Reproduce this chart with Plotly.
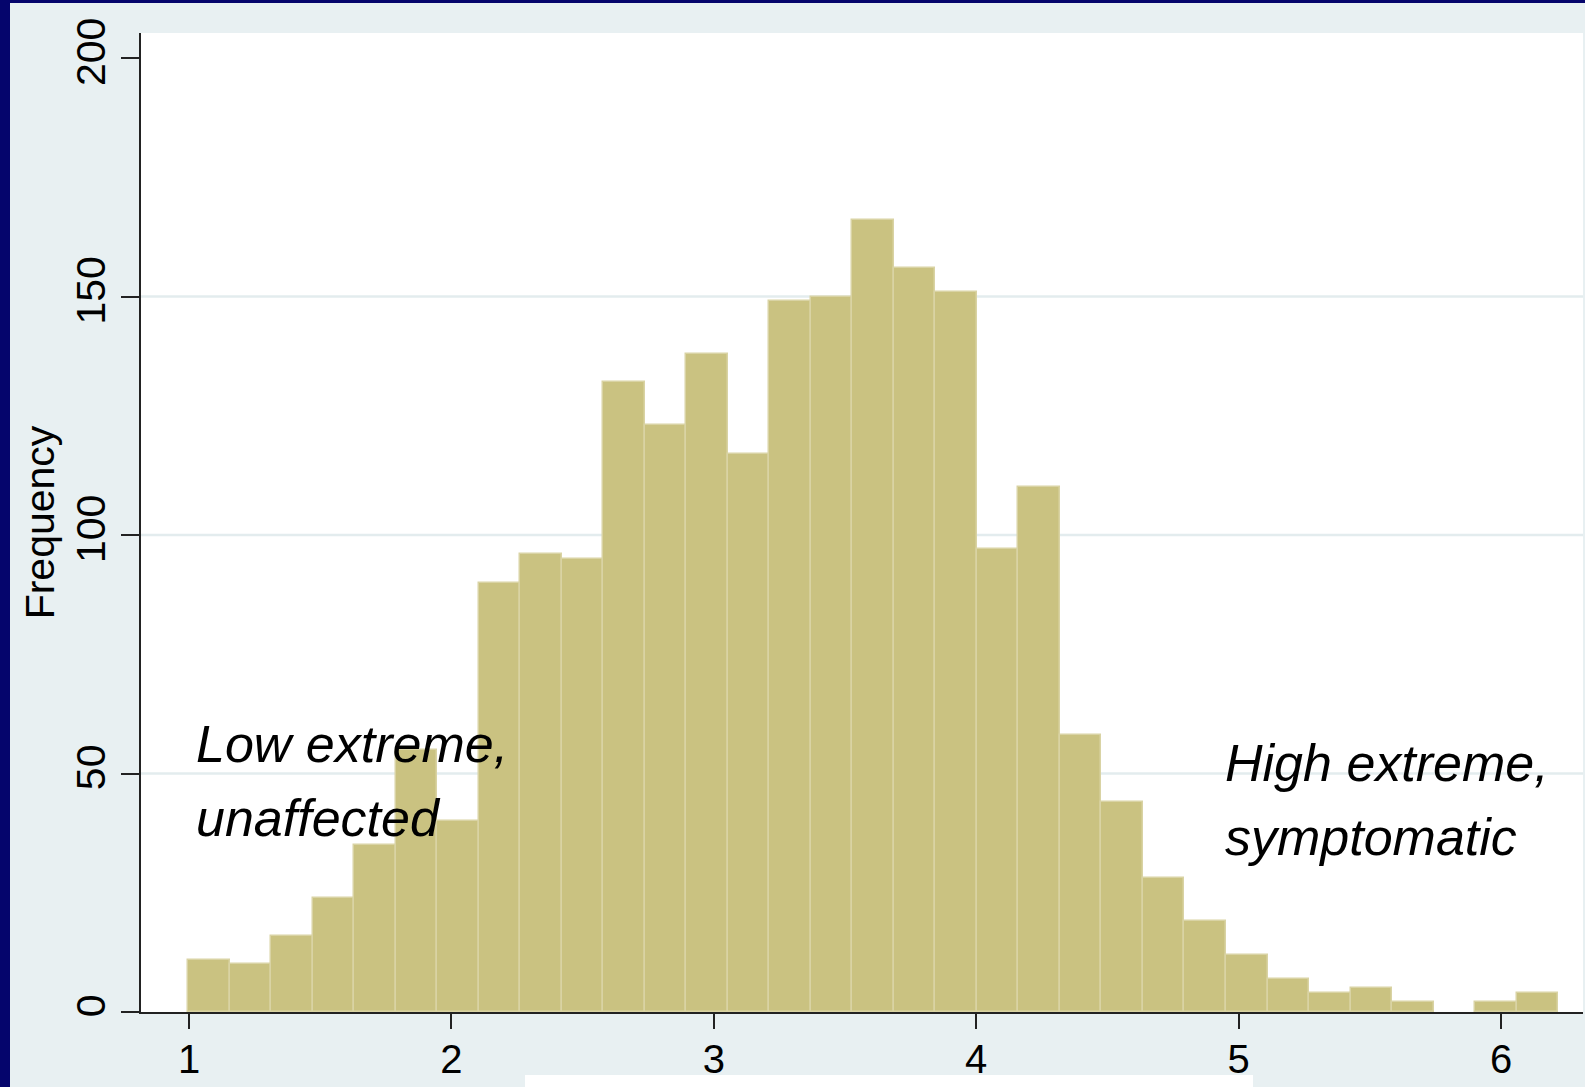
import numpy as np
import plotly.graph_objects as go

# ---- data ----
bin_start = 0.997
bin_width = 0.1582
counts = [11, 10, 16, 24, 35, 55, 40, 90, 96, 95, 132, 123, 138, 117, 149, 150,
          166, 156, 151, 97, 110, 58, 44, 28, 19, 12, 7, 4, 5, 2, 0, 2, 4]
x_ticks = [1, 2, 3, 4, 5, 6]
y_ticks = [0, 50, 100, 150, 200]
grid_vals = [50, 100, 150]
low_label = ["Low extreme,", "unaffected"]
high_label = ["High extreme,", "symptomatic"]

centers = bin_start + bin_width * (np.arange(len(counts)) + 0.5)
line_w = [1.5 if c > 0 else 0 for c in counts]

W, H = 1585, 1087
ML, MR, MT, MB = 141, 2, 33, 75
PW, PH = W - ML - MR, H - MT - MB

def px(xp):
    return (xp - ML) / PW

def py(yp):
    return (H - MB - yp) / PH

NAVY = "#05056c"
BG = "#e8f0f2"
BAR = "#cac281"
BAR_LINE = "#d9d3a4"
AX = "#222222"
FONT = "Liberation Sans, Arial, sans-serif"

fig = go.Figure()
fig.add_trace(go.Bar(
    x=centers, y=counts, width=bin_width,
    marker=dict(color=BAR, line=dict(color=BAR_LINE, width=line_w)),
    showlegend=False, hoverinfo="skip",
))

shapes = []
for g in grid_vals:
    shapes.append(dict(type="line", xref="paper", yref="y", x0=0, x1=1, y0=g, y1=g,
                       line=dict(color="#e3ecee", width=2.5), layer="below"))
# navy frame (left and top) and white strip at bottom
shapes.append(dict(type="rect", xref="paper", yref="paper", x0=px(0), x1=px(10),
                   y0=py(H), y1=py(0), fillcolor=NAVY, line=dict(width=0), layer="below"))
shapes.append(dict(type="rect", xref="paper", yref="paper", x0=px(0), x1=px(W),
                   y0=py(3), y1=py(0), fillcolor=NAVY, line=dict(width=0), layer="below"))
shapes.append(dict(type="rect", xref="paper", yref="paper", x0=px(525), x1=px(1253),
                   y0=py(H), y1=py(1075), fillcolor="white", line=dict(width=0), layer="below"))

yscale = PH / 205.24
def ydat(yp):
    return (H - MB - yp) / yscale

AF = 52
ann_font = dict(family=FONT, size=AF, color="black")
off = 19
annotations = []
for txt, base in zip(low_label, [763, 837]):
    annotations.append(dict(x=1.02, y=ydat(base - off), xref="x", yref="y", text="<i>%s</i>" % txt,
                            showarrow=False, xanchor="left", yanchor="middle", font=ann_font))
for txt, base in zip(high_label, [782, 856]):
    annotations.append(dict(x=4.94, y=ydat(base - off), xref="x", yref="y", text="<i>%s</i>" % txt,
                            showarrow=False, xanchor="left", yanchor="middle", font=ann_font))

fig.update_layout(
    width=W, height=H,
    margin=dict(l=ML, r=MR, t=MT, b=MB, pad=0),
    paper_bgcolor=BG, plot_bgcolor="white",
    shapes=shapes, annotations=annotations,
    bargap=0,
    font=dict(family=FONT, color="black", size=40),
)
fig.update_xaxes(
    range=[1 - 48 / 262.4, 1 + (W - MR - 189) / 262.4],
    tickvals=x_ticks, ticktext=[str(v) for v in x_ticks],
    ticks="outside", ticklen=15, tickwidth=2, tickcolor=AX,
    ticklabelstandoff=-4,
    showline=True, linewidth=2, linecolor=AX, showgrid=False, zeroline=False,
    tickfont=dict(family=FONT, size=40, color="black"),
)
fig.update_yaxes(
    range=[0, 205.24],
    tickvals=y_ticks, ticktext=[str(v) for v in y_ticks],
    ticks="outside", ticklen=18, tickwidth=2, tickcolor=AX, tickangle=-90,
    showline=True, linewidth=2, linecolor=AX, showgrid=False, zeroline=False,
    tickfont=dict(family=FONT, size=41, color="black"),
    title=dict(text="Frequency", font=dict(family=FONT, size=41, color="black"), standoff=0),
)

fig.write_html("out.html")
